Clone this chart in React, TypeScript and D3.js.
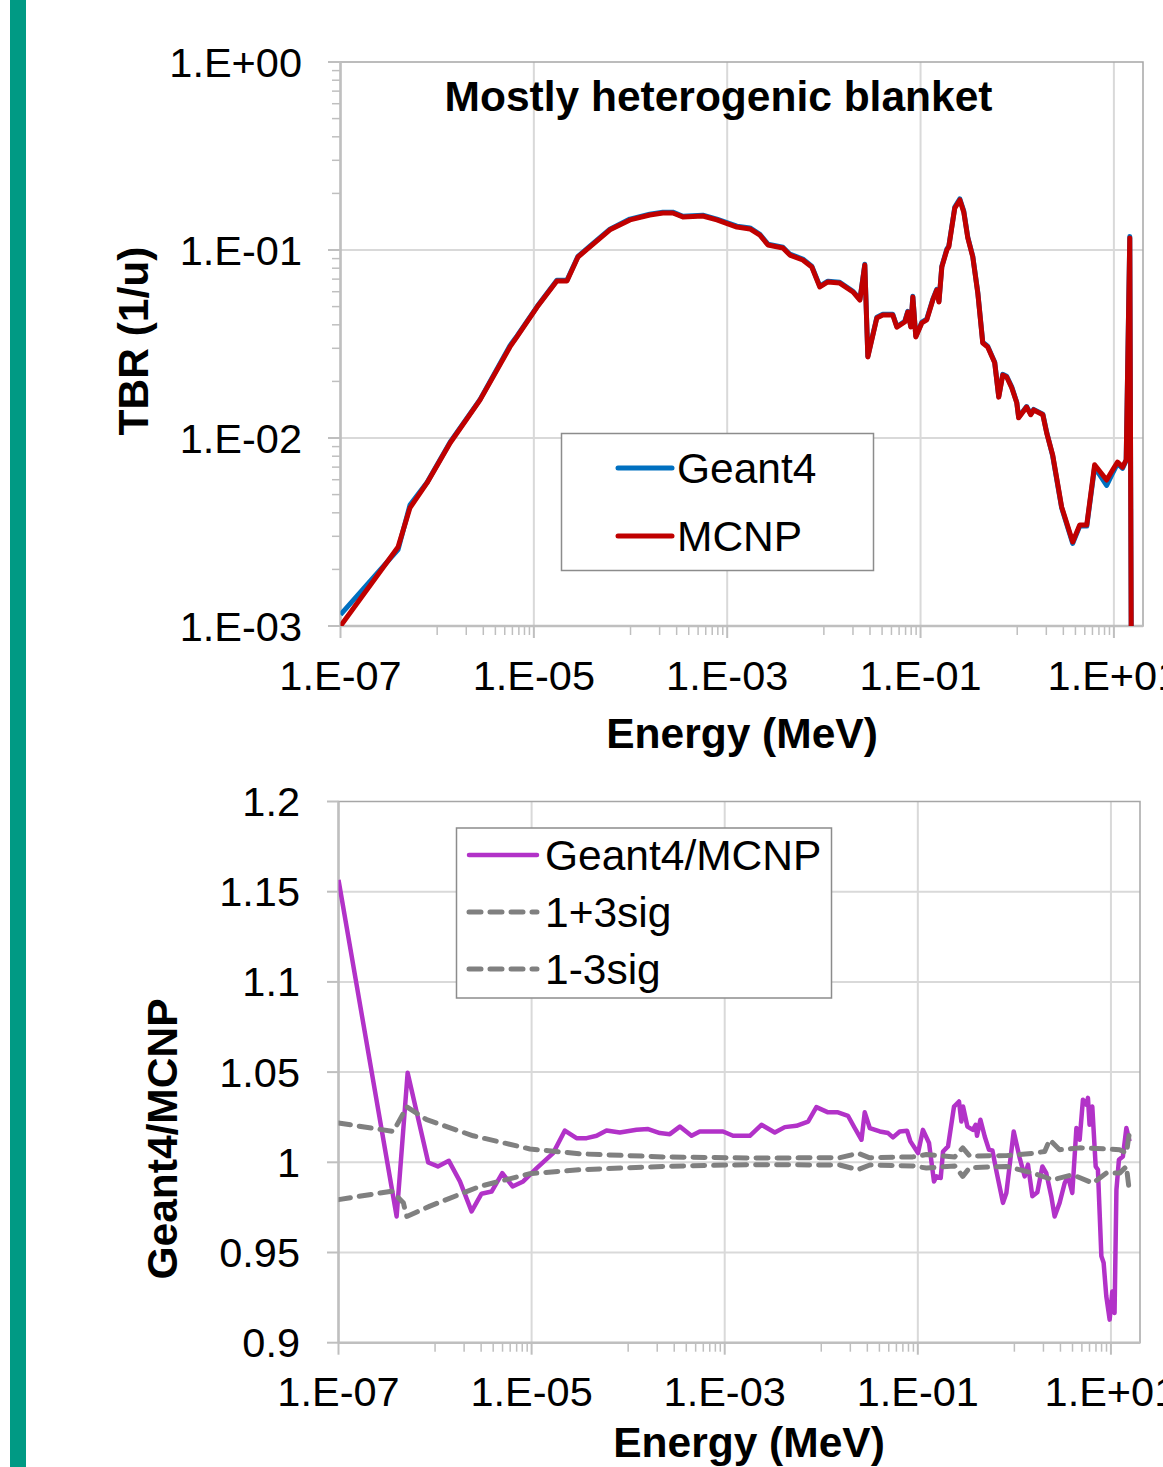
import React, { useRef, useEffect } from "react";
import * as d3 from "d3";

// ---- top panel: TBR spectrum ----
const topEnergy = [
  1.0e-7, 3.94e-7, 5.23e-7, 7.85e-7, 1.36e-6, 2.77e-6, 5.66e-6, 6.68e-6, 1.08e-5, 1.73e-5,
  2.2e-5, 2.86e-5, 3.8e-5, 6.12e-5, 9.86e-5, 1.58e-4, 2.16e-4, 2.74e-4, 3.48e-4, 5.6e-4,
  7.82e-4, 1.26e-3, 1.72e-3, 2.18e-3, 2.64e-3, 3.77e-3, 4.45e-3, 6.05e-3, 7.5e-3, 9.08e-3,
  0.011, 0.0146, 0.02, 0.0236, 0.0265, 0.0285, 0.0353, 0.0407, 0.0516, 0.0569,
  0.0687, 0.0738, 0.0793, 0.0832, 0.0893, 0.103, 0.116, 0.134, 0.147, 0.155,
  0.166, 0.187, 0.196, 0.226, 0.255, 0.28, 0.308, 0.347, 0.391, 0.44,
  0.495, 0.585, 0.644, 0.708, 0.778, 0.877, 0.989, 1.035, 1.25, 1.38,
  1.48, 1.84, 2.02, 2.33, 2.88, 3.75, 4.43, 5.24, 6.32, 8.41,
  9.7, 10.9, 12.3, 13.4, 14.6, 15.6,
];
const mcnpTbr = [
  1.0e-3, 2.63e-3, 4.25e-3, 5.77e-3, 9.4e-3, 0.0159, 0.0305, 0.0345, 0.0497, 0.0684,
  0.0684, 0.0918, 0.1038, 0.128, 0.1445, 0.1535, 0.1574, 0.1574, 0.15, 0.1517,
  0.1445, 0.1325, 0.1294, 0.12, 0.1063, 0.1025, 0.094, 0.0885, 0.0812, 0.0636,
  0.0676, 0.0667, 0.0598, 0.0542, 0.0832, 0.027, 0.0435, 0.0451, 0.0451, 0.0389,
  0.0414, 0.0468, 0.0389, 0.0562, 0.0345, 0.0409, 0.0425, 0.0542, 0.0612, 0.0529,
  0.0812, 0.1, 0.1038, 0.167, 0.1845, 0.159, 0.116, 0.0918, 0.059, 0.032,
  0.0305, 0.0251, 0.0165, 0.0216, 0.0211, 0.0185, 0.0154, 0.0128, 0.0146, 0.0133,
  0.0141, 0.0133, 0.0106, 8.1e-3, 4.3e-3, 2.8e-3, 3.45e-3, 3.45e-3, 7.2e-3, 5.98e-3,
  6.76e-3, 7.45e-3, 7.0e-3, 7.64e-3, 0.116, 1e-5,
];
const geant4Tbr = [
  1.15e-3, 2.55e-3, 4.4e-3, 5.8e-3, 9.5e-3, 0.016, 0.031, 0.0348, 0.05, 0.069,
  0.069, 0.0925, 0.105, 0.129, 0.146, 0.155, 0.159, 0.159, 0.151, 0.153,
  0.146, 0.134, 0.131, 0.121, 0.1075, 0.1035, 0.095, 0.0895, 0.082, 0.0642,
  0.0683, 0.0673, 0.0603, 0.0547, 0.084, 0.0272, 0.0439, 0.0455, 0.0455, 0.0392,
  0.0418, 0.0472, 0.0392, 0.0567, 0.0348, 0.0413, 0.0429, 0.0547, 0.0618, 0.0534,
  0.082, 0.101, 0.105, 0.169, 0.187, 0.161, 0.117, 0.0925, 0.0595, 0.0323,
  0.0308, 0.0253, 0.0166, 0.0218, 0.0213, 0.0187, 0.0155, 0.0129, 0.0147, 0.0134,
  0.0142, 0.0134, 0.0107, 8.0e-3, 4.25e-3, 2.75e-3, 3.4e-3, 3.4e-3, 7.0e-3, 5.6e-3,
  6.5e-3, 7.3e-3, 6.9e-3, 7.6e-3, 0.118, 1e-5,
];

// ---- bottom panel: ratio ----
const ratioEnergy = [
  1e-7, 4.0e-7, 5.2e-7, 8.5e-7, 1.07e-6, 1.39e-6, 1.81e-6, 2.39e-6, 3.03e-6, 3.85e-6,
  4.97e-6, 6.35e-6, 8.18e-6, 1.13e-5, 1.67e-5, 2.21e-5, 2.92e-5, 3.71e-5, 4.71e-5, 5.97e-5,
  8.2e-5, 1.22e-4, 1.61e-4, 2.13e-4, 2.7e-4, 3.43e-4, 4.53e-4, 5.52e-4, 9.6e-4, 1.22e-3,
  1.82e-3, 2.4e-3, 3.3e-3, 4.19e-3, 5.53e-3, 7.3e-3, 8.9e-3, 0.01175, 0.0149, 0.0189,
  0.0222, 0.0261, 0.0282, 0.0318, 0.0404, 0.0492, 0.0553, 0.065, 0.0773, 0.0838,
  0.1005, 0.113, 0.1306, 0.147, 0.156, 0.1726, 0.1824, 0.2056, 0.237, 0.267,
  0.2825, 0.294, 0.326, 0.372, 0.397, 0.41, 0.445, 0.493, 0.546, 0.592,
  0.652, 0.762, 0.826, 0.984, 1.135, 1.279, 1.383, 1.535, 1.73, 1.95,
  2.14, 2.41, 2.61, 2.94, 3.32, 3.59, 3.98, 4.39, 4.74, 5.13,
  5.56, 5.78, 6.01, 6.41, 6.95, 7.33, 7.96, 8.4, 8.95, 9.7,
  10.33, 10.9, 11.4, 12.1, 13.3, 14.45, 15.6,
];
const ratioValues = [
  1.1565, 0.97, 1.0496, 0.9999, 0.9977, 1.0008, 0.9894, 0.9728, 0.9826, 0.9838,
  0.994, 0.9866, 0.9894, 0.9968, 1.0051, 1.0176, 1.0134, 1.0134, 1.0147, 1.0176,
  1.0165, 1.018, 1.0184, 1.0162, 1.0156, 1.0198, 1.0147, 1.0171, 1.0171, 1.0147,
  1.0147, 1.0208, 1.0165, 1.0195, 1.0202, 1.0226, 1.0306, 1.0277, 1.0277, 1.0258,
  1.019, 1.0125, 1.0277, 1.019, 1.0171, 1.0162, 1.0138, 1.0171, 1.0175, 1.0116,
  1.0051, 1.018, 1.0107, 0.9894, 0.9922, 0.9913, 1.006, 1.0088, 1.0309, 1.0337,
  1.0226, 1.0309, 1.0198, 1.018, 1.0208, 1.0147, 1.0236, 1.0143, 1.0069, 1.0066,
  0.995, 0.9775, 0.983, 1.0171, 1.0024, 0.9922, 0.9987, 0.9812, 0.9834, 0.9977,
  0.994, 0.9812, 0.97, 0.9775, 0.9885, 0.9922, 0.983, 1.019, 1.0125, 1.0347,
  1.0319, 1.0357, 1.0208, 1.0309, 0.9977, 0.9959, 0.948, 0.9443, 0.9258, 0.9128,
  0.9284, 0.9165, 0.9848, 1.0014, 1.0032, 1.019, 1.0116,
];
const plusEnergy = [
  1e-7, 3.7e-7, 5.1e-7, 8.2e-7, 2.48e-6, 9.6e-6, 3.16e-5, 2.3e-4, 1.68e-3, 0.0155,
  0.024, 0.0318, 0.0885, 0.1227, 0.241, 0.292, 0.344, 0.826, 1.56, 2.06,
  2.32, 2.94, 4.74, 8.95, 12.3, 14.45, 15.6,
];
const plusValues = [
  1.0218, 1.0171, 1.0307, 1.0236, 1.0147, 1.0074, 1.0047, 1.003, 1.0024, 1.0025,
  1.005, 1.0025, 1.003, 1.0043, 1.003, 1.008, 1.0035, 1.0037, 1.005, 1.006,
  1.0125, 1.007, 1.008, 1.0074, 1.007, 1.005, 1.0171,
];
const minusEnergy = [
  1e-7, 3.56e-7, 4.69e-7, 5.1e-7, 8.85e-7, 2.92e-6, 9.6e-6, 3.16e-5, 2.3e-4, 1.68e-3,
  0.0155, 0.024, 0.0318, 0.0885, 0.1227, 0.241, 0.292, 0.344, 0.826, 1.56,
  2.49, 4.0, 6.5, 8.95, 12.3, 14.45, 15.6,
];
const minusValues = [
  0.9793, 0.984, 0.9776, 0.97, 0.9757, 0.9867, 0.9937, 0.9959, 0.9977, 0.9987,
  0.9985, 0.9959, 0.9985, 0.998, 0.9968, 0.998, 0.9922, 0.997, 0.9977, 0.994,
  0.9903, 0.9931, 0.9885, 0.994, 0.994, 0.9977, 0.983,
];

// ---- axes / labels ----
const xTickValues = [1e-7, 1e-5, 1e-3, 1e-1, 1e1];
const xTickLabels = ["1.E-07", "1.E-05", "1.E-03", "1.E-01", "1.E+01"];
const tbrTickValues = [1e-3, 1e-2, 1e-1, 1];
const tbrTickLabels = ["1.E-03", "1.E-02", "1.E-01", "1.E+00"];
const ratioTickValues = [0.9, 0.95, 1, 1.05, 1.1, 1.15, 1.2];
const ratioTickLabels = ["0.9", "0.95", "1", "1.05", "1.1", "1.15", "1.2"];
const topLegend = ["Geant4", "MCNP"];
const bottomLegend = ["Geant4/MCNP", "1+3sig", "1-3sig"];

const W = 1163;
const H = 1467;
const FONT = "'Liberation Sans', Arial, Helvetica, sans-serif";
const TICK_FONT = `41.5px ${FONT}`;
const LEG_FONT = `42.5px ${FONT}`;
const TITLE_FONT = `bold 42.5px ${FONT}`;
const GRID = "#d9d9d9";
const AXIS = "#bfbfbf";
const BORDER = "#a6a6a6";

// excel log axis with major unit 100: minor ticks only in the upper decade of each pair
function minorLogTicks(domain: number[]) {
  const out: number[] = [];
  for (const m of [-6, -4, -2, 0, 2]) {
    for (let k = 1; k <= 9; k++) {
      const v = k * Math.pow(10, m);
      if (v > domain[0] * 1.0001 && v < domain[1] * 0.9999) out.push(v);
    }
  }
  return out;
}

function drawPanel(svg: any, x: any, y: any, id: string) {
  const [x0, x1] = x.range();
  const [y1, y0] = y.range();
  const g = svg.append("g");

  // vertical gridlines
  g.selectAll(".vg")
    .data(xTickValues.filter((v) => v > x.domain()[0]))
    .join("line")
    .attr("x1", (d: number) => x(d))
    .attr("x2", (d: number) => x(d))
    .attr("y1", y0)
    .attr("y2", y1)
    .attr("stroke", GRID)
    .attr("stroke-width", 2);

  // plot border
  g.append("rect")
    .attr("x", x0)
    .attr("y", y0)
    .attr("width", x1 - x0)
    .attr("height", y1 - y0)
    .attr("fill", "none")
    .attr("stroke", BORDER)
    .attr("stroke-width", 1.5);

  g.selectAll(".mx")
    .data(minorLogTicks(x.domain()))
    .join("line")
    .attr("x1", (d: number) => x(d))
    .attr("x2", (d: number) => x(d))
    .attr("y1", y1)
    .attr("y2", y1 + 9)
    .attr("stroke", AXIS)
    .attr("stroke-width", 1.5);

  g.selectAll(".Mx")
    .data(xTickValues)
    .join("line")
    .attr("x1", (d: number) => x(d))
    .attr("x2", (d: number) => x(d))
    .attr("y1", y1)
    .attr("y2", y1 + 12)
    .attr("stroke", AXIS)
    .attr("stroke-width", 2);

  // axis lines
  g.append("line")
    .attr("x1", x0)
    .attr("x2", x1)
    .attr("y1", y1)
    .attr("y2", y1)
    .attr("stroke", AXIS)
    .attr("stroke-width", 2.5);
  g.append("line")
    .attr("x1", x0)
    .attr("x2", x0)
    .attr("y1", y0)
    .attr("y2", y1)
    .attr("stroke", AXIS)
    .attr("stroke-width", 2.5);

  svg
    .append("clipPath")
    .attr("id", id)
    .append("rect")
    .attr("x", x0)
    .attr("y", y0)
    .attr("width", x1 - x0)
    .attr("height", y1 - y0);

  return g;
}

const App = () => {
  const ref = useRef<SVGSVGElement>(null);

  useEffect(() => {
    const svg = d3.select(ref.current);
    svg.selectAll("*").remove();

    svg.append("rect").attr("width", W).attr("height", H).attr("fill", "#fff");
    svg.append("rect").attr("x", 10).attr("y", 0).attr("width", 16).attr("height", H).attr("fill", "#009a84");

    // ============ TOP ============
    const xTop = d3.scaleLog().domain([1e-7, 20]).range([340.5, 1143]);
    const yTop = d3.scaleLog().domain([1e-3, 1]).range([626, 62]);

    svg
      .append("g")
      .selectAll("line")
      .data(tbrTickValues.slice(1, -1))
      .join("line")
      .attr("x1", 340.5)
      .attr("x2", 1143)
      .attr("y1", (d) => yTop(d))
      .attr("y2", (d) => yTop(d))
      .attr("stroke", GRID)
      .attr("stroke-width", 2);

    const gTop = drawPanel(svg, xTop, yTop, "clipTop");

    const yMinor: number[] = [];
    for (let m = -3; m <= -1; m++) for (let k = 2; k <= 9; k++) yMinor.push(k * Math.pow(10, m));
    gTop
      .selectAll(".my")
      .data(yMinor)
      .join("line")
      .attr("x1", 332)
      .attr("x2", 340.5)
      .attr("y1", (d) => yTop(d))
      .attr("y2", (d) => yTop(d))
      .attr("stroke", AXIS)
      .attr("stroke-width", 1.5);
    gTop
      .selectAll(".My")
      .data(tbrTickValues)
      .join("line")
      .attr("x1", 328)
      .attr("x2", 340.5)
      .attr("y1", (d) => yTop(d))
      .attr("y2", (d) => yTop(d))
      .attr("stroke", AXIS)
      .attr("stroke-width", 2);

    gTop
      .selectAll(".yl")
      .data(tbrTickValues)
      .join("text")
      .attr("x", 302)
      .attr("y", (d) => yTop(d) + 14.5)
      .attr("text-anchor", "end")
      .style("font", TICK_FONT)
      .text((d, i) => tbrTickLabels[i]);

    gTop
      .selectAll(".xl")
      .data(xTickValues)
      .join("text")
      .attr("x", (d) => xTop(d))
      .attr("y", 690)
      .attr("text-anchor", "middle")
      .style("font", TICK_FONT)
      .text((d, i) => xTickLabels[i]);

    const topLine = d3
      .line<[number, number]>()
      .x((d) => xTop(d[0]))
      .y((d) => yTop(d[1]));

    const plotTop = svg.append("g").attr("clip-path", "url(#clipTop)");
    plotTop
      .append("path")
      .attr("d", topLine(d3.zip(topEnergy, geant4Tbr) as [number, number][]))
      .attr("fill", "none")
      .attr("stroke", "#0070c0")
      .attr("stroke-width", 5)
      .attr("stroke-linejoin", "round");
    plotTop
      .append("path")
      .attr("d", topLine(d3.zip(topEnergy, mcnpTbr) as [number, number][]))
      .attr("fill", "none")
      .attr("stroke", "#c00000")
      .attr("stroke-width", 5)
      .attr("stroke-linejoin", "round");

    svg
      .append("text")
      .attr("x", 718.5)
      .attr("y", 111)
      .attr("text-anchor", "middle")
      .style("font", TITLE_FONT)
      .text("Mostly heterogenic blanket");

    svg
      .append("text")
      .attr("x", 742)
      .attr("y", 748)
      .attr("text-anchor", "middle")
      .style("font", TITLE_FONT)
      .text("Energy (MeV)");

    svg
      .append("text")
      .attr("transform", "translate(148,341) rotate(-90)")
      .attr("text-anchor", "middle")
      .style("font", TITLE_FONT)
      .text("TBR (1/u)");

    // legend top
    const lgTop = svg.append("g");
    lgTop
      .append("rect")
      .attr("x", 561.5)
      .attr("y", 433.5)
      .attr("width", 312)
      .attr("height", 137)
      .attr("fill", "#fff")
      .attr("stroke", "#8c8c8c")
      .attr("stroke-width", 1.5);
    const topColors = ["#0070c0", "#c00000"];
    lgTop
      .selectAll(".li")
      .data(topLegend)
      .join("g")
      .each(function (d, i) {
        const yy = 468 + i * 68;
        const s = d3.select(this);
        s.append("line")
          .attr("x1", 618)
          .attr("x2", 672)
          .attr("y1", yy)
          .attr("y2", yy)
          .attr("stroke", topColors[i])
          .attr("stroke-width", 5)
          .attr("stroke-linecap", "round");
        s.append("text")
          .attr("x", 677)
          .attr("y", yy + 15)
          .style("font", LEG_FONT)
          .text(d);
      });

    // ============ BOTTOM ============
    const xBot = d3.scaleLog().domain([1e-7, 20]).range([338.5, 1140]);
    const yBot = d3.scaleLinear().domain([0.9, 1.2]).range([1342.7, 801.5]);

    svg
      .append("g")
      .selectAll("line")
      .data(ratioTickValues.slice(1, -1))
      .join("line")
      .attr("x1", 338.5)
      .attr("x2", 1140)
      .attr("y1", (d) => yBot(d))
      .attr("y2", (d) => yBot(d))
      .attr("stroke", GRID)
      .attr("stroke-width", 2);

    const gBot = drawPanel(svg, xBot, yBot, "clipBot");

    gBot
      .selectAll(".My")
      .data(ratioTickValues)
      .join("line")
      .attr("x1", 327)
      .attr("x2", 338.5)
      .attr("y1", (d) => yBot(d))
      .attr("y2", (d) => yBot(d))
      .attr("stroke", AXIS)
      .attr("stroke-width", 2);

    gBot
      .selectAll(".yl")
      .data(ratioTickValues)
      .join("text")
      .attr("x", 300)
      .attr("y", (d) => yBot(d) + 14.5)
      .attr("text-anchor", "end")
      .style("font", TICK_FONT)
      .text((d, i) => ratioTickLabels[i]);

    gBot
      .selectAll(".xl")
      .data(xTickValues)
      .join("text")
      .attr("x", (d) => xBot(d))
      .attr("y", 1406)
      .attr("text-anchor", "middle")
      .style("font", TICK_FONT)
      .text((d, i) => xTickLabels[i]);

    const botLine = d3
      .line<[number, number]>()
      .x((d) => xBot(d[0]))
      .y((d) => yBot(d[1]));

    const plotBot = svg.append("g").attr("clip-path", "url(#clipBot)");
    plotBot
      .append("path")
      .attr("d", botLine(d3.zip(ratioEnergy, ratioValues) as [number, number][]))
      .attr("fill", "none")
      .attr("stroke", "#b232c8")
      .attr("stroke-width", 4.5)
      .attr("stroke-linejoin", "round");
    [
      [plusEnergy, plusValues],
      [minusEnergy, minusValues],
    ].forEach(([e, v]) => {
      plotBot
        .append("path")
        .attr("d", botLine(d3.zip(e, v) as [number, number][]))
        .attr("fill", "none")
        .attr("stroke", "#808080")
        .attr("stroke-width", 5)
        .attr("stroke-dasharray", "12 9")
        .attr("stroke-linecap", "round")
        .attr("stroke-linejoin", "round");
    });

    svg
      .append("text")
      .attr("x", 749)
      .attr("y", 1457)
      .attr("text-anchor", "middle")
      .style("font", TITLE_FONT)
      .text("Energy (MeV)");

    svg
      .append("text")
      .attr("transform", "translate(177,1139) rotate(-90)")
      .attr("text-anchor", "middle")
      .style("font", TITLE_FONT)
      .text("Geant4/MCNP");

    const lgBot = svg.append("g");
    lgBot
      .append("rect")
      .attr("x", 456.5)
      .attr("y", 828)
      .attr("width", 375)
      .attr("height", 170)
      .attr("fill", "#fff")
      .attr("stroke", "#8c8c8c")
      .attr("stroke-width", 1.5);
    lgBot
      .selectAll(".li")
      .data(bottomLegend)
      .join("g")
      .each(function (d, i) {
        const yy = 855 + i * 57;
        const s = d3.select(this);
        s.append("line")
          .attr("x1", 469)
          .attr("x2", 537)
          .attr("y1", yy)
          .attr("y2", yy)
          .attr("stroke", i === 0 ? "#b232c8" : "#808080")
          .attr("stroke-width", i === 0 ? 4.5 : 5)
          .attr("stroke-dasharray", i === 0 ? null : "12 9")
          .attr("stroke-linecap", "round");
        s.append("text")
          .attr("x", 545)
          .attr("y", yy + 15)
          .style("font", LEG_FONT)
          .text(d);
      });
  }, []);

  return (
    <div style={{ position: "absolute", left: 0, top: 0 }}>
      <svg ref={ref} width={W} height={H} style={{ display: "block" }} />
    </div>
  );
};

export default App;
